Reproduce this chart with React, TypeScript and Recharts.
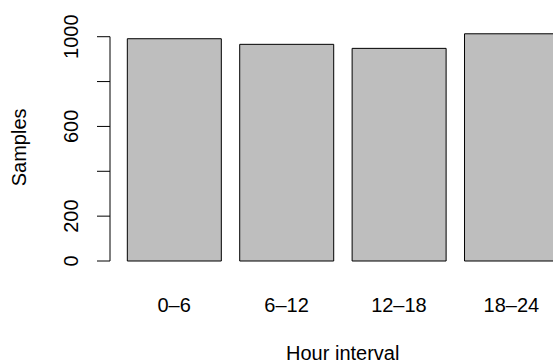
import { Bar, BarChart, ReferenceLine, XAxis, YAxis } from "recharts";

// ============================================
// Data
// ============================================

const intervals = ["0–6", "6–12", "12–18", "18–24"];
const samples = [991, 966, 948, 1013];

const yTicks = [0, 200, 400, 600, 800, 1000];
// R drops the labels that would overlap
const yTickLabels = ["0", "200", "", "600", "", "1000"];

const data = intervals.map((interval, i) => ({ interval, samples: samples[i] }));

// ============================================
// Layout
// ============================================

const FONT = "'Liberation Sans', Arial, Helvetica, sans-serif";
const FONT_SIZE = 20;

// barplot's default 4% axis extension
const yMax = Math.max(...samples);
const yDomain = [-0.04 * yMax, 1.04 * yMax];

function YTick(props: any) {
  const { x, y, index } = props;
  const label = yTickLabels[index];
  if (!label) return null;
  const bx = x - 19;
  return (
    <text
      x={bx}
      y={y}
      transform={`rotate(-90, ${bx}, ${y})`}
      textAnchor="middle"
      fontFamily={FONT}
      fontSize={FONT_SIZE}
      fill="#000"
    >
      {label}
    </text>
  );
}

function XTick(props: any) {
  const { x, y, payload } = props;
  return (
    <text x={x} y={y + 41.6} textAnchor="middle" fontFamily={FONT} fontSize={FONT_SIZE} fill="#000">
      {payload.value}
    </text>
  );
}

function XLabel(props: any) {
  const { viewBox } = props;
  const cx = viewBox.x + viewBox.width / 2;
  return (
    <text x={cx} y={viewBox.y + 89.6} textAnchor="middle" fontFamily={FONT} fontSize={FONT_SIZE} fill="#000">
      Hour interval
    </text>
  );
}

function YLabel(props: any) {
  const { viewBox } = props;
  const cy = viewBox.y + viewBox.height / 2;
  const bx = 26;
  return (
    <text
      x={bx}
      y={cy}
      transform={`rotate(-90, ${bx}, ${cy})`}
      textAnchor="middle"
      fontFamily={FONT}
      fontSize={FONT_SIZE}
      fill="#000"
    >
      Samples
    </text>
  );
}

export default function App() {
  return (
    <div
      style={{
        position: "absolute",
        left: 0,
        top: 0,
        width: 553,
        height: 363,
        overflow: "hidden",
        background: "#fff",
      }}
    >
      <BarChart
        width={600}
        height={363}
        data={data}
        margin={{ top: 24.7, right: 24.5, bottom: 0, left: 0 }}
        barCategoryGap="8.333%"
      >
        <XAxis
          dataKey="interval"
          axisLine={false}
          tickLine={false}
          tickSize={0}
          tickMargin={0}
          height={92.9}
          padding={{ left: 7.95, right: 7.95 }}
          tick={<XTick />}
          interval={0}
          label={<XLabel />}
        />
        <XAxis xAxisId="frame" type="number" domain={[0, 1]} allowDataOverflow hide />
        <YAxis
          type="number"
          domain={yDomain}
          allowDataOverflow
          ticks={yTicks}
          interval={0}
          width={110}
          axisLine={false}
          tickLine={{ stroke: "#000", strokeWidth: 1 }}
          tickSize={13}
          tickMargin={0}
          tick={<YTick />}
          label={<YLabel />}
        />
        <ReferenceLine
          xAxisId="frame"
          segment={[
            { x: 0, y: yTicks[0] },
            { x: 0, y: yTicks[yTicks.length - 1] },
          ]}
          stroke="#000"
          strokeWidth={1}
          ifOverflow="visible"
        />
        <Bar dataKey="samples" fill="#bebebe" stroke="#000" strokeWidth={1} isAnimationActive={false} />
      </BarChart>
    </div>
  );
}
